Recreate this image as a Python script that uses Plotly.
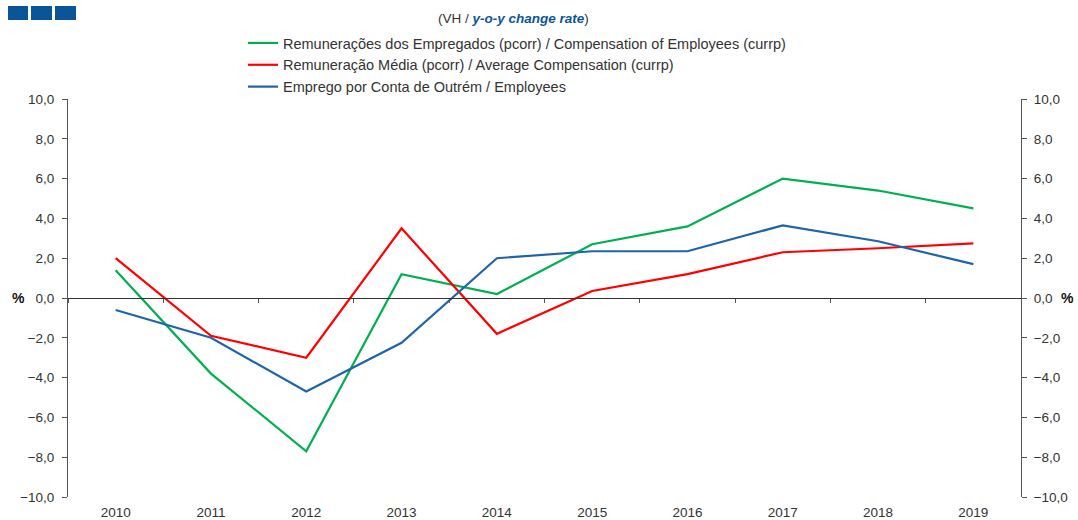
import plotly.graph_objects as go

years = ["2010", "2011", "2012", "2013", "2014", "2015", "2016", "2017", "2018", "2019"]
comp_employees = [1.4, -3.8, -7.7, 1.2, 0.2, 2.7, 3.6, 6.0, 5.4, 4.5]
avg_comp = [2.0, -1.9, -3.0, 3.5, -1.8, 0.35, 1.2, 2.3, 2.5, 2.75]
employees = [-0.6, -2.0, -4.7, -2.25, 2.0, 2.35, 2.35, 3.65, 2.85, 1.7]

names = [
    "Remunerações dos Empregados (pcorr) / Compensation of Employees (currp)",
    "Remuneração Média (pcorr) / Average Compensation (currp)",
    "Emprego por Conta de Outrém / Employees",
]
colors = ["#00b050", "#ff0000", "#1f64a8"]

W, H = 1078, 520
ml, mr, mt, mb = 68, 57, 99, 23
pw = W - ml - mr
ph = H - mt - mb

FAM = "Liberation Sans, Arial, sans-serif"

fig = go.Figure()
for vals, nm, c in zip([comp_employees, avg_comp, employees], names, colors):
    fig.add_trace(go.Scatter(x=years, y=vals, name=nm, mode="lines",
                             xaxis="x2", yaxis="y2",
                             line=dict(color=c, width=2.2)))

font = dict(family=FAM, size=13.5, color="#333333")
fig.update_layout(
    width=W, height=H,
    margin=dict(l=ml, r=mr, t=mt, b=mb, autoexpand=False),
    plot_bgcolor="white", paper_bgcolor="white",
    font=font,
    separators=",.",
    showlegend=True,
    legend=dict(x=(243 - ml) / pw, y=1 + (mt - 27) / ph, xanchor="left", yanchor="top",
                font=dict(family=FAM, size=14.5, color="#333333"),
                bgcolor="rgba(0,0,0,0)", itemwidth=30, tracegroupgap=0),
    # category boundary ticks sitting on the zero line
    xaxis=dict(type="category", categoryorder="array", categoryarray=years,
               range=[-0.5, 9.5], anchor="free", position=0.5,
               showline=True, linecolor="#333333", linewidth=1,
               ticks="outside", tickson="boundaries", ticklen=4, tickcolor="#555555",
               showticklabels=False, showgrid=False, zeroline=False),
    # year labels at the bottom
    xaxis2=dict(type="category", categoryorder="array", categoryarray=years,
                range=[-0.5, 9.5], overlaying="x", side="bottom", anchor="y2",
                showline=False, ticks="", showgrid=False, zeroline=False,
                showticklabels=True, tickfont=font, ticklabelstandoff=5),
    yaxis=dict(range=[-10, 10], dtick=2, tick0=0, tickformat=".1f",
               showline=True, linecolor="#555555", linewidth=1,
               ticks="outside", ticklen=5, tickcolor="#555555",
               showgrid=False, zeroline=True, zerolinecolor="#333333", zerolinewidth=1,
               tickfont=font, ticklabelstandoff=5),
    yaxis2=dict(range=[-10, 10], dtick=2, tick0=0, tickformat=".1f",
                overlaying="y", side="right", anchor="x2",
                showline=True, linecolor="#555555", linewidth=1,
                ticks="outside", ticklen=5, tickcolor="#555555",
                showgrid=False, zeroline=False, tickfont=font, ticklabelstandoff=4),
)

# logo squares
for x0, x1 in [(8, 28), (31, 52), (55, 76)]:
    fig.add_shape(type="rect", xref="paper", yref="paper",
                  x0=(x0 - ml) / pw, x1=(x1 - ml) / pw,
                  y0=1 + (mt - 20) / ph, y1=1 + (mt - 6) / ph,
                  line=dict(width=0), fillcolor="#0a5597")

fig.add_annotation(xref="paper", yref="paper", x=(513 - ml) / pw, y=1 + (mt - 18) / ph,
                   text="(VH / <b><i><span style='color:#0a5597'>y-o-y change rate</span></i></b>)",
                   showarrow=False, font=dict(family=FAM, size=13.5, color="#333333"),
                   xanchor="center", yanchor="middle")
fig.add_annotation(xref="paper", yref="y", x=(18 - ml) / pw, y=0, text="<b>%</b>",
                   showarrow=False, font=dict(family=FAM, size=14, color="#111111"),
                   xanchor="center", yanchor="middle")
fig.add_annotation(xref="paper", yref="y", x=(1067 - ml) / pw, y=0, text="<b>%</b>",
                   showarrow=False, font=dict(family=FAM, size=14, color="#111111"),
                   xanchor="center", yanchor="middle")

fig.write_html("out.html", config={"displayModeBar": False},
               post_script="document.body.style.margin='0';")
